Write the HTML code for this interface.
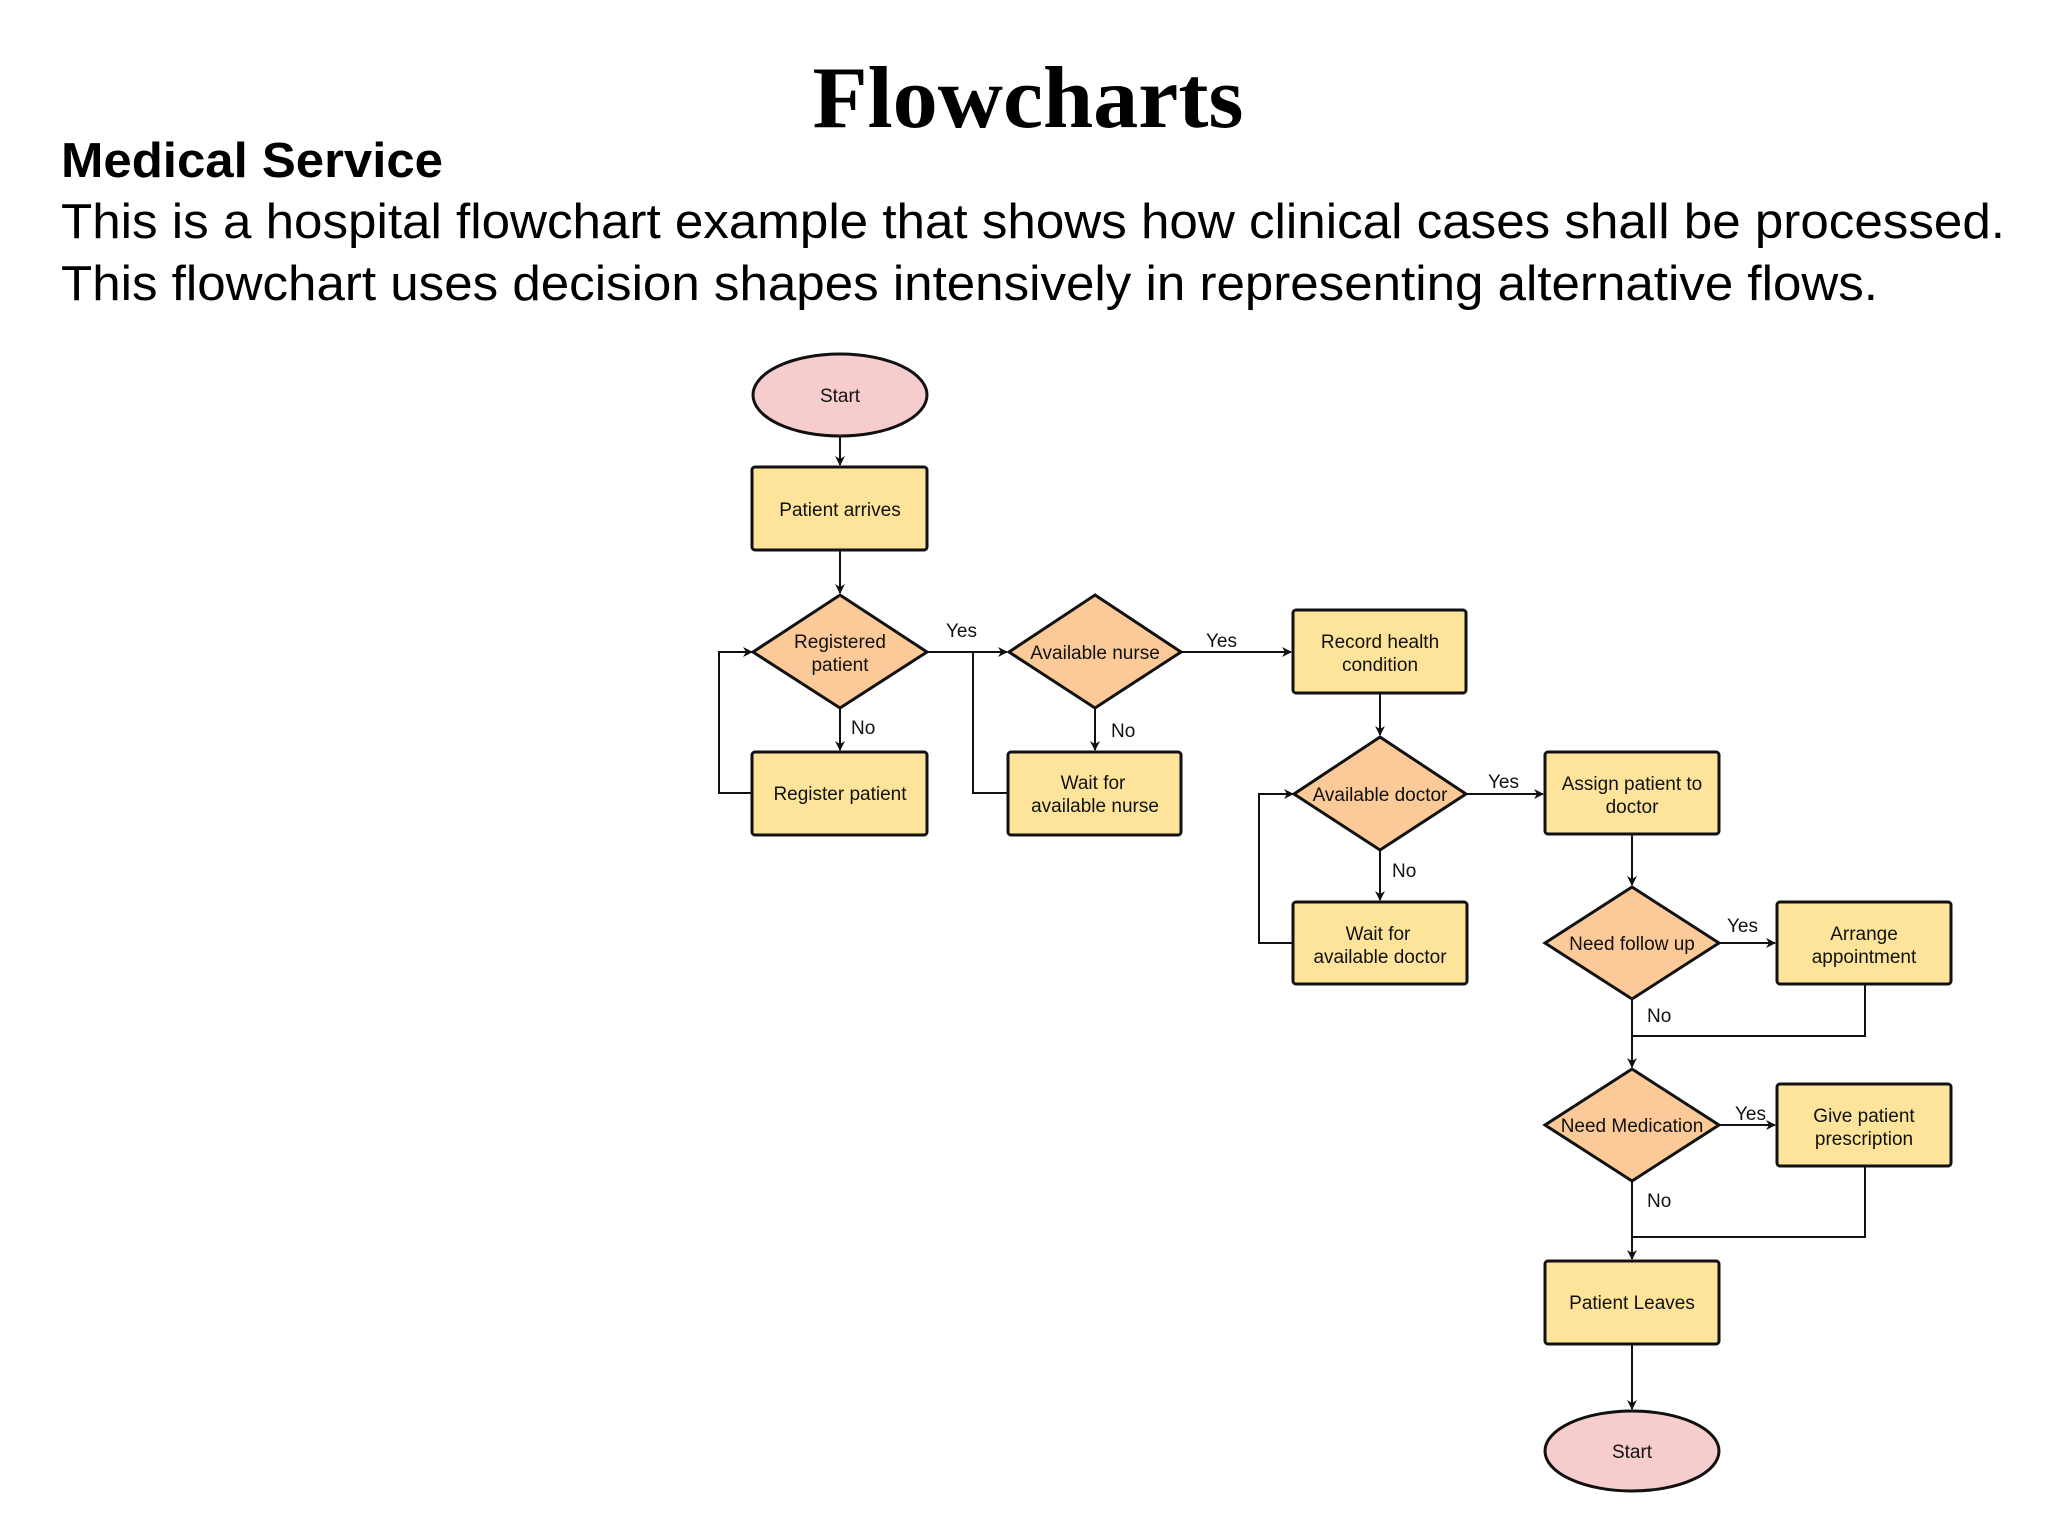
<!DOCTYPE html>
<html><head><meta charset="utf-8"><style>
html,body{margin:0;padding:0;background:#fff;}
svg{display:block;}
.n{font-family:"Liberation Sans",sans-serif;font-size:19px;fill:#111;text-anchor:middle;}
.l{font-family:"Liberation Sans",sans-serif;font-size:19px;fill:#111;}
.b{fill:#fde49a;stroke:#111;stroke-width:3;}
.d{fill:#fcca98;stroke:#111;stroke-width:3;}
.e{fill:#f7cccc;stroke:#111;stroke-width:3;}
.c{fill:none;stroke:#111;stroke-width:2;}
</style></head><body>
<svg width="2048" height="1536" viewBox="0 0 2048 1536" xmlns="http://www.w3.org/2000/svg">
<defs><marker id="a" markerWidth="10" markerHeight="10" refX="9" refY="5" orient="auto" markerUnits="userSpaceOnUse"><path d="M0,0 L10,5 L0,10 L3,5 Z" fill="#111"/></marker></defs>
<text x="1028" y="127" font-family="Liberation Serif,serif" font-weight="bold" font-size="88" text-anchor="middle" textLength="431" lengthAdjust="spacingAndGlyphs">Flowcharts</text>
<text x="61" y="177" font-family="Liberation Sans,sans-serif" font-weight="bold" font-size="49" textLength="382" lengthAdjust="spacingAndGlyphs">Medical Service</text>
<text x="61" y="238" font-family="Liberation Sans,sans-serif" font-size="49" textLength="1944" lengthAdjust="spacingAndGlyphs">This is a hospital flowchart example that shows how clinical cases shall be processed.</text>
<text x="61" y="300" font-family="Liberation Sans,sans-serif" font-size="49" textLength="1817" lengthAdjust="spacingAndGlyphs">This flowchart uses decision shapes intensively in representing alternative flows.</text>

<!-- connectors -->
<path class="c" d="M840,436 V465" marker-end="url(#a)"/>
<path class="c" d="M840,550 V593" marker-end="url(#a)"/>
<path class="c" d="M840,708 V750" marker-end="url(#a)"/>
<path class="c" d="M752,793 H719 V652 H752" marker-end="url(#a)"/>
<path class="c" d="M927,652 H1007" marker-end="url(#a)"/>
<path class="c" d="M1008,793 H973 V652"/>
<path class="c" d="M1095,708 V750" marker-end="url(#a)"/>
<path class="c" d="M1181,652 H1291" marker-end="url(#a)"/>
<path class="c" d="M1380,693 V735" marker-end="url(#a)"/>
<path class="c" d="M1380,850 V900" marker-end="url(#a)"/>
<path class="c" d="M1293,943 H1259 V794 H1293" marker-end="url(#a)"/>
<path class="c" d="M1466,794 H1543" marker-end="url(#a)"/>
<path class="c" d="M1632,834 V885" marker-end="url(#a)"/>
<path class="c" d="M1719,943 H1775" marker-end="url(#a)"/>
<path class="c" d="M1632,999 V1067" marker-end="url(#a)"/>
<path class="c" d="M1865,984 V1036 H1632"/>
<path class="c" d="M1719,1125 H1775" marker-end="url(#a)"/>
<path class="c" d="M1632,1181 V1259" marker-end="url(#a)"/>
<path class="c" d="M1865,1166 V1237 H1632"/>
<path class="c" d="M1632,1344 V1409" marker-end="url(#a)"/>

<!-- nodes -->
<ellipse class="e" cx="840" cy="395" rx="87" ry="41"/><text class="n" x="840" y="402">Start</text>
<rect class="b" x="752" y="467" width="175" height="83" rx="3"/><text class="n" x="840" y="516">Patient arrives</text>
<polygon class="d" points="840,595 927,652 840,708 753,652"/><text class="n" x="840" y="648">Registered</text><text class="n" x="840" y="671">patient</text>
<rect class="b" x="752" y="752" width="175" height="83" rx="3"/><text class="n" x="840" y="800">Register patient</text>
<polygon class="d" points="1095,595 1181,652 1095,708 1009,652"/><text class="n" x="1095" y="659">Available nurse</text>
<rect class="b" x="1008" y="752" width="173" height="83" rx="3"/><text class="n" x="1093" y="789">Wait for</text><text class="n" x="1095" y="812">available nurse</text>
<rect class="b" x="1293" y="610" width="173" height="83" rx="3"/><text class="n" x="1380" y="648">Record health</text><text class="n" x="1380" y="671">condition</text>
<polygon class="d" points="1380,737 1466,794 1380,850 1294,794"/><text class="n" x="1380" y="801">Available doctor</text>
<rect class="b" x="1293" y="902" width="174" height="82" rx="3"/><text class="n" x="1378" y="940">Wait for</text><text class="n" x="1380" y="963">available doctor</text>
<rect class="b" x="1545" y="752" width="174" height="82" rx="3"/><text class="n" x="1632" y="790">Assign patient to</text><text class="n" x="1632" y="813">doctor</text>
<polygon class="d" points="1632,887 1719,943 1632,999 1545,943"/><text class="n" x="1632" y="950">Need follow up</text>
<rect class="b" x="1777" y="902" width="174" height="82" rx="3"/><text class="n" x="1864" y="940">Arrange</text><text class="n" x="1864" y="963">appointment</text>
<polygon class="d" points="1632,1069 1719,1125 1632,1181 1545,1125"/><text class="n" x="1632" y="1132">Need Medication</text>
<rect class="b" x="1777" y="1084" width="174" height="82" rx="3"/><text class="n" x="1864" y="1122">Give patient</text><text class="n" x="1864" y="1145">prescription</text>
<rect class="b" x="1545" y="1261" width="174" height="83" rx="3"/><text class="n" x="1632" y="1309">Patient Leaves</text>
<ellipse class="e" cx="1632" cy="1451" rx="87" ry="40"/><text class="n" x="1632" y="1458">Start</text>

<!-- labels -->
<text class="l" x="946" y="637">Yes</text>
<text class="l" x="1206" y="647">Yes</text>
<text class="l" x="851" y="734">No</text>
<text class="l" x="1111" y="737">No</text>
<text class="l" x="1488" y="788">Yes</text>
<text class="l" x="1392" y="877">No</text>
<text class="l" x="1727" y="932">Yes</text>
<text class="l" x="1647" y="1022">No</text>
<text class="l" x="1735" y="1120">Yes</text>
<text class="l" x="1647" y="1207">No</text>
</svg>
</body></html>
